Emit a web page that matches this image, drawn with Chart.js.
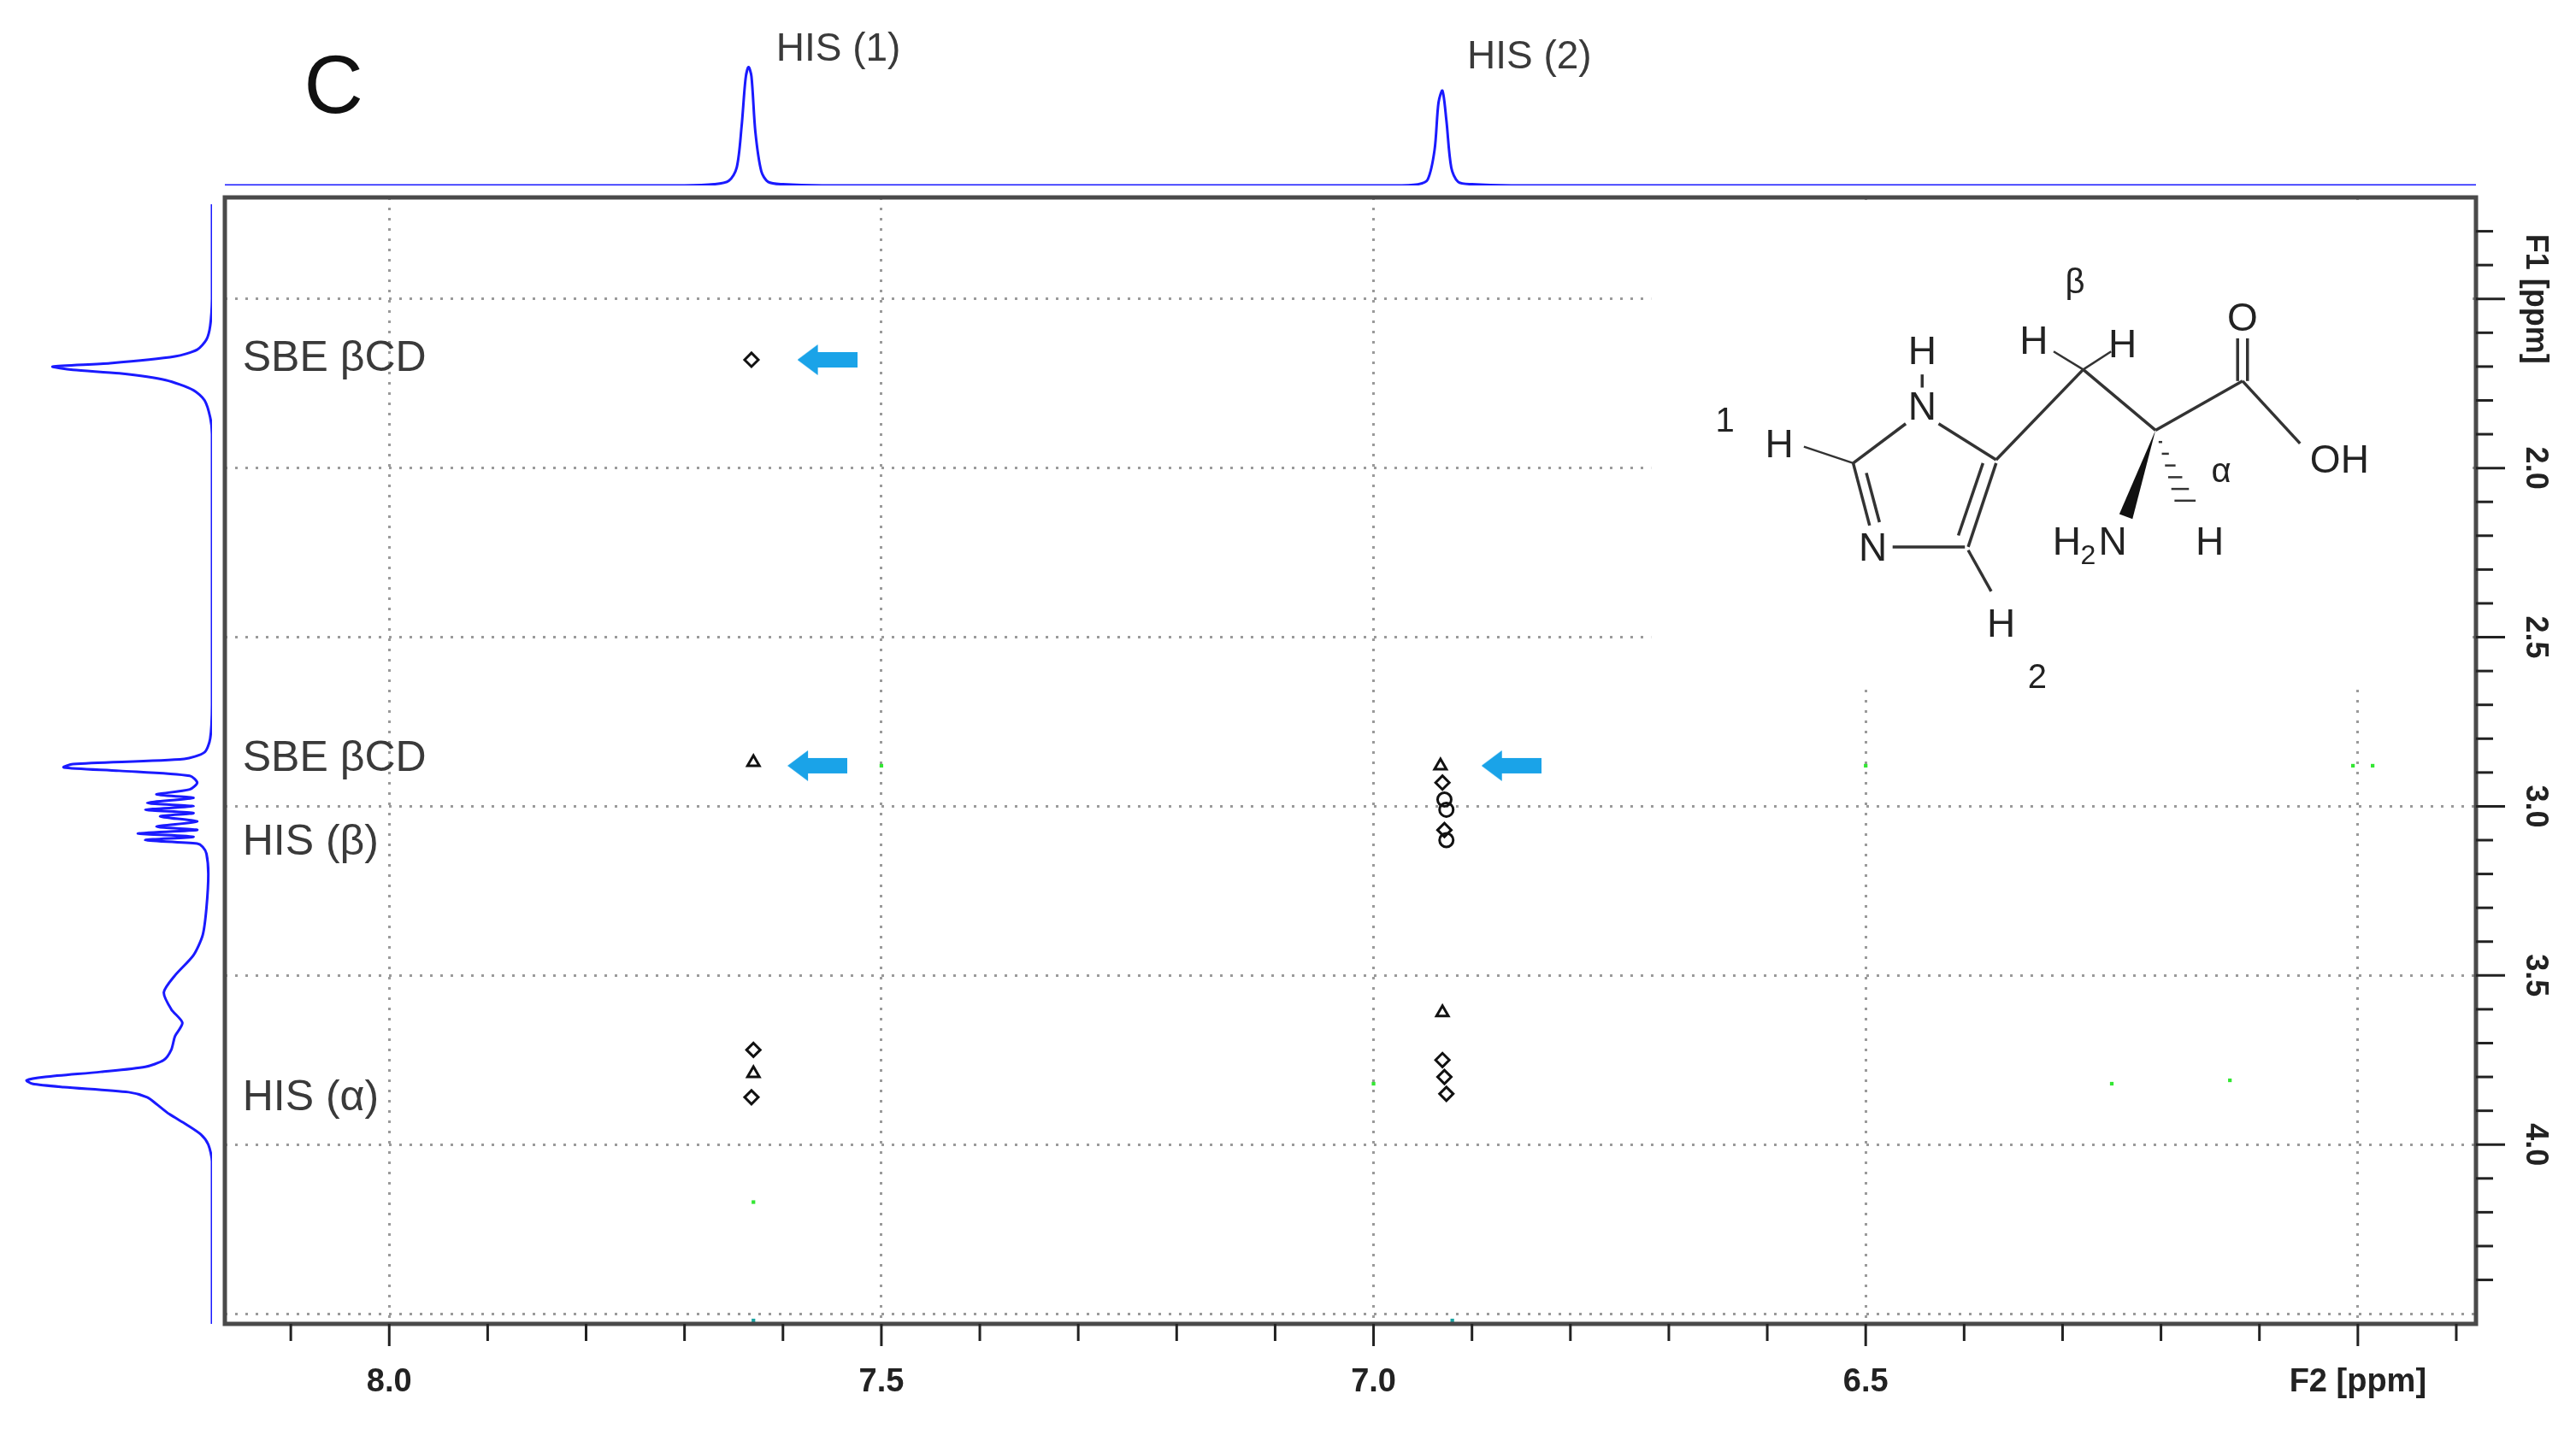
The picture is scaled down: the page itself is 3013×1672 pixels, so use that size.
<!DOCTYPE html>
<html><head><meta charset="utf-8">
<script src="https://cdn.jsdelivr.net/npm/chart.js@4"></script>
<style>
html,body{margin:0;padding:0;background:#fff;width:3013px;height:1672px;overflow:hidden}
.c{position:absolute}
</style></head><body>
<div class="c" style="left:0;top:0;width:3013px;height:1672px"><canvas id="main"></canvas></div>
<div class="c" style="left:263px;top:77px;width:2633px;height:140px"><canvas id="top"></canvas></div>
<div class="c" style="left:29px;top:231px;width:219px;height:1318px"><canvas id="left"></canvas></div>
<script>
// ---- data ----
const f2Range = [5.88, 8.167];
const f1Range = [1.2, 4.53];
const topPpm = [8.167,7.70,7.67,7.655,7.647,7.642,7.638,7.635,7.632,7.628,7.622,7.615,7.60,7.56,6.98,6.955,6.945,6.938,6.934,6.930,6.926,6.921,6.914,6.90,6.86,5.88];
const topInt = [0,0,0.01,0.04,0.15,0.5,0.9,1.0,0.92,0.45,0.12,0.03,0.01,0,0,0.01,0.05,0.3,0.7,0.8,0.55,0.15,0.03,0.01,0,0];
const leftPpm = [1.22,1.5,1.58,1.62,1.65,1.67,1.69,1.70,1.71,1.72,1.74,1.77,1.80,1.85,1.9,2.7,2.8,2.84,2.86,2.875,2.885,2.895,2.91,2.93,2.95,2.965,2.975,2.99,3.0,3.01,3.02,3.03,3.045,3.06,3.07,3.08,3.09,3.10,3.11,3.12,3.14,3.2,3.3,3.38,3.44,3.5,3.55,3.6,3.64,3.68,3.72,3.75,3.77,3.785,3.80,3.81,3.82,3.83,3.845,3.86,3.88,3.91,3.94,3.97,4.0,4.05,4.53];
const leftInt = [0,0,0.01,0.03,0.08,0.2,0.55,0.86,0.75,0.5,0.25,0.1,0.04,0.01,0,0,0.01,0.04,0.15,0.75,0.8,0.5,0.12,0.08,0.12,0.3,0.1,0.35,0.1,0.36,0.1,0.28,0.08,0.3,0.08,0.4,0.1,0.36,0.08,0.05,0.03,0.02,0.03,0.05,0.1,0.2,0.26,0.22,0.16,0.2,0.22,0.26,0.36,0.6,0.9,1.0,0.97,0.8,0.45,0.35,0.3,0.23,0.14,0.06,0.02,0,0];
const crossF2 = [7.632,7.630,6.932,6.930,6.928,6.926,6.928,6.926,6.930,6.930,6.928,6.926,7.630,7.630,7.632];
const crossF1 = [1.68,2.87,2.88,2.93,2.98,3.01,3.07,3.10,3.61,3.75,3.80,3.85,3.72,3.79,3.86];
const greenF2 = [7.50,6.50,6.005,5.985,7.0,6.25,6.13,7.63];
const greenF1 = [2.88,2.88,2.88,2.88,3.82,3.82,3.81,4.17];
const tealF2 = [7.63,6.92];
const tealF1 = [4.52,4.52];
const arrowF2 = [7.555,7.565,6.86];
const arrowF1 = [1.68,2.88,2.88];
const rowLabels = ['SBE βCD','SBE βCD','HIS (β)','HIS (α)'];
const rowLabelF1 = [1.678,2.86,3.107,3.863];
const rowLabelF2 = 8.149;
const peakLabels = ['HIS (1)','HIS (2)'];
const peakLabelF2 = [7.607,6.905];
const majorStep = 0.5, minorStep = 0.1;

Chart.defaults.animation = false;
Chart.defaults.font.family = "'Liberation Sans', Arial, sans-serif";
const S = 1.9216;

const arrowImg = document.createElement('canvas');
arrowImg.width = 70; arrowImg.height = 36;
(function(){const c=arrowImg.getContext('2d');c.fillStyle='#1aa3e8';c.beginPath();
c.moveTo(0,18);c.lineTo(24,0);c.lineTo(24,9);c.lineTo(70,9);c.lineTo(70,27);c.lineTo(24,27);c.lineTo(24,36);c.closePath();c.fill();})();

const pts=(a,b)=>a.map((v,i)=>({x:v,y:b[i]}));
const isMajor=v=>Math.abs(Math.round(v/0.5)*0.5-v)<1e-6;

const decor = {
  id:'decor',
  beforeDatasetsDraw(ch){
    const c=ch.ctx; c.save(); c.fillStyle='#fff';
    c.fillRect(1005*S,122*S,(1505-1005)*S,(420-122)*S); c.restore();
  },
  afterDraw(ch){
    const c=ch.ctx, xs=ch.scales.x, ys=ch.scales.y, a=ch.chartArea;
    c.save();
    c.strokeStyle='#4a4a4a'; c.lineWidth=5; c.strokeRect(a.left,a.top,a.right-a.left,a.bottom-a.top);
    c.strokeStyle='#222'; c.lineWidth=3;
    for(let v=5.9;v<=8.1+1e-6;v+=minorStep){const p=xs.getPixelForValue(v);const L=isMajor(v)?26:20;
      c.beginPath();c.moveTo(p,a.bottom);c.lineTo(p,a.bottom+L);c.stroke();}
    for(let v=1.3;v<=4.4+1e-6;v+=minorStep){const p=ys.getPixelForValue(v);const L=isMajor(v)?34:20;
      c.beginPath();c.moveTo(a.right,p);c.lineTo(a.right+L,p);c.stroke();}
    c.fillStyle='#222'; c.font="bold 36px 'Liberation Sans', Arial"; c.textAlign='center'; c.textBaseline='middle';
    for(let v=1.5;v<=4.0+1e-6;v+=majorStep){const p=ys.getPixelForValue(v);
      c.save();c.translate(1543*S,p);c.rotate(Math.PI/2);c.fillText(Math.abs(v-1.5)<1e-6?'F1 [ppm]':v.toFixed(1),0,0);c.restore();}
    c.fillStyle='#3a3a3a'; c.font="50px 'Liberation Sans', Arial"; c.textAlign='left';
    rowLabels.forEach((t,i)=>c.fillText(t,xs.getPixelForValue(rowLabelF2),ys.getPixelForValue(rowLabelF1[i])));
    c.font="46px 'Liberation Sans', Arial";
    peakLabels.forEach((t,i)=>c.fillText(t,xs.getPixelForValue(peakLabelF2[i]),(i?67:58)));
    c.font="96px 'Liberation Sans', Arial"; c.fillStyle='#111'; c.textAlign='center';
    c.fillText('C',203*S,55*S);
    const ln=(x1,y1,x2,y2,w)=>{c.lineWidth=w||3.5;c.strokeStyle='#333';c.beginPath();c.moveTo(x1*S,y1*S);c.lineTo(x2*S,y2*S);c.stroke();};
    const tx=(t,x,y,f)=>{c.font=(f||46)+"px 'Liberation Sans', Arial";c.fillStyle='#222';c.textAlign='center';c.fillText(t,x*S,y*S);};
    ln(1170,228,1170,236);
    ln(1180,258,1215,280); ln(1160,258,1128,282); ln(1128,282,1138,320); ln(1136,288,1144,318);
    ln(1152,333,1196,333); ln(1198,333,1215,282); ln(1192,326,1207,282);
    ln(1098,272,1128,282,2.5); ln(1198,335,1212,360);
    ln(1215,280,1268,225); ln(1268,225,1312,262); ln(1268,225,1250,214,2.5); ln(1268,225,1285,214,2.5);
    ln(1312,262,1365,232); ln(1362,232,1362,206); ln(1368,232,1368,206); ln(1365,232,1400,270);
    c.fillStyle='#111'; c.beginPath(); c.moveTo(1312*S,262*S); c.lineTo(1290*S,313*S); c.lineTo(1298*S,316*S); c.closePath(); c.fill();
    for(let k=1;k<7;k++){const t=k/7;const x=1312+(1333-1312)*t,y=262+(312-262)*t;ln(x-5*t*1.5,y,x+5*t*1.5,y,2.5);}
    tx('H',1170,215); tx('N',1170,249); tx('1',1050,257,40); tx('H',1083,272); tx('N',1140,335);
    tx('H',1218,381); tx('2',1240,413,40); tx('β',1263,173,40); tx('H',1238,209); tx('H',1292,211);
    tx('O',1365,195); tx('OH',1424,281); tx('α',1352,288,40); tx('H',1345,331);
    tx('H',1258,331); c.font="32px 'Liberation Sans', Arial"; c.fillText('2',1271*S,339*S); c.font="46px 'Liberation Sans', Arial"; c.fillText('N',1286*S,331*S);
    c.restore();
  }
};

const gridOpt = {drawTicks:false,color:c=>isMajor(c.tick.value)?'#9a9a9a':'rgba(0,0,0,0)',lineWidth:3};

new Chart(document.getElementById('main'),{
  type:'scatter',
  data:{datasets:[
    {data:pts(crossF2,crossF1),pointStyle:['rectRot','triangle','triangle','rectRot','circle','circle','rectRot','circle','triangle','rectRot','rectRot','rectRot','rectRot','triangle','rectRot'],radius:8,borderColor:'#111',borderWidth:3,backgroundColor:'rgba(0,0,0,0)'},
    {data:pts(greenF2,greenF1),pointStyle:'rect',radius:3,borderWidth:0,backgroundColor:'#33e633'},
    {data:pts(tealF2,tealF1),pointStyle:'rect',radius:3,borderWidth:0,backgroundColor:'#1aa3a3'},
    {data:pts(arrowF2,arrowF1),pointStyle:arrowImg,radius:18}
  ]},
  options:{responsive:true,maintainAspectRatio:false,
    layout:{padding:{left:263,top:231,right:0,bottom:0}},
    plugins:{legend:{display:false},tooltip:{enabled:false}},
    scales:{
      x:{type:'linear',reverse:true,min:f2Range[0],max:f2Range[1],position:'bottom',
        afterFit(s){s.height=123;},border:{display:false,dash:[3,9]},grid:gridOpt,
        ticks:{stepSize:minorStep,includeBounds:false,autoSkip:false,maxRotation:0,padding:46,color:'#222',
          font:{size:38,weight:'bold'},callback:v=>isMajor(v)?(Math.abs(v-6)<1e-6?'F2 [ppm]':v.toFixed(1)):''}},
      y:{type:'linear',reverse:true,min:f1Range[0],max:f1Range[1],position:'right',
        afterFit(s){s.width=117;},border:{display:false,dash:[3,9]},grid:gridOpt,
        ticks:{stepSize:minorStep,includeBounds:false,display:false}}
    }},
  plugins:[decor]
});

new Chart(document.getElementById('top'),{
  type:'line',
  data:{datasets:[{data:pts(topPpm,topInt),borderColor:'#1a1aff',borderWidth:3,pointRadius:0,tension:0.3}]},
  options:{responsive:true,maintainAspectRatio:false,layout:{padding:0},
    plugins:{legend:{display:false},tooltip:{enabled:false}},
    scales:{x:{type:'linear',reverse:true,min:f2Range[0],max:f2Range[1],display:false},
            y:{min:0,max:1.01,display:false}}}
});

new Chart(document.getElementById('left'),{
  type:'line',
  data:{datasets:[{data:pts(leftInt,leftPpm),borderColor:'#1a1aff',borderWidth:3,pointRadius:0,tension:0.25}]},
  options:{responsive:true,maintainAspectRatio:false,indexAxis:'y',layout:{padding:0},
    plugins:{legend:{display:false},tooltip:{enabled:false}},
    scales:{x:{type:'linear',reverse:true,min:0,max:1.01,display:false},
            y:{type:'linear',reverse:true,min:f1Range[0],max:f1Range[1],display:false}}}
});
</script></body></html>
